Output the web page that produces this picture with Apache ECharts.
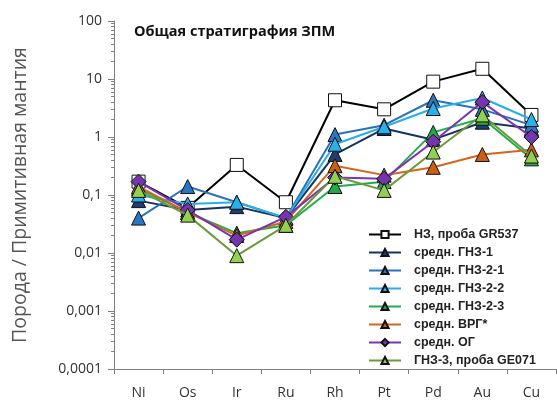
<!DOCTYPE html>
<html>
<head>
<meta charset="utf-8">
<script src="https://cdn.jsdelivr.net/npm/echarts@6/dist/echarts.min.js"></script>
<style>
html, body { margin: 0; padding: 0; background: #fff; }
#chart { width: 557px; height: 405px; }
</style>
</head>
<body>
<div id="chart"></div>
<script>
// элементы по оси X
var elements = ['Ni', 'Os', 'Ir', 'Ru', 'Rh', 'Pt', 'Pd', 'Au', 'Cu'];

// нормированные содержания (порода / примитивная мантия)
var nzGR537   = [0.17, 0.06, 0.33, 0.075, 4.3, 3.0, 9.0, 15, 2.4];
var gnz1      = [0.08, 0.055, 0.063, 0.04, 0.5, 1.4, 0.9, 1.8, 1.4];
var gnz21     = [0.04, 0.14, 0.075, 0.04, 1.1, 1.6, 4.3, 3.0, 1.6];
var gnz22     = [0.1, 0.07, 0.075, 0.04, 0.75, 1.5, 3.1, 4.7, 2.0];
var gnz23     = [0.13, 0.05, 0.022, 0.03, 0.14, 0.17, 1.2, 2.1, 0.42];
var vrg       = [0.14, 0.05, 0.02, 0.035, 0.32, 0.22, 0.3, 0.5, 0.6];
var og        = [0.17, 0.055, 0.017, 0.042, 0.2, 0.19, 0.83, 4.0, 1.0];
var gnz3GE071 = [0.12, 0.045, 0.009, 0.03, 0.21, 0.12, 0.55, 2.4, 0.47];

// подписи оси Y
var yLabels = {0.0001: '0,0001', 0.001: '0,001', 0.01: '0,01', 0.1: '0,1', 1: '1', 10: '10', 100: '100'};

var seriesDefs = [
    {name: 'НЗ, проба GR537', data: nzGR537, line: '#000000', fill: '#ffffff', symbol: 'rect', size: 13},
    {name: 'средн. ГНЗ-1', data: gnz1, line: '#17325f', fill: '#1f3d73', symbol: 'triangle', size: 14},
    {name: 'средн. ГНЗ-2-1', data: gnz21, line: '#2a72b8', fill: '#2a76c0', symbol: 'triangle', size: 14},
    {name: 'средн. ГНЗ-2-2', data: gnz22, line: '#27aee8', fill: '#2ab0ea', symbol: 'triangle', size: 14},
    {name: 'средн. ГНЗ-2-3', data: gnz23, line: '#1fae4e', fill: '#22a84a', symbol: 'triangle', size: 14},
    {name: 'средн. ВРГ*', data: vrg, line: '#d2661e', fill: '#cc5f17', symbol: 'triangle', size: 14},
    {name: 'средн. ОГ', data: og, line: '#7a34b0', fill: '#7535ad', symbol: 'diamond', size: 15},
    {name: 'ГНЗ-3, проба GE071', data: gnz3GE071, line: '#6a9a3c', fill: '#92d050', symbol: 'triangle', size: 14}
];

// промежуточные деления логарифмической шкалы (2..9 в каждой декаде)
var minorTicks = [];
for (var e = -4; e < 2; e++) {
    for (var k = 2; k <= 9; k++) {
        minorTicks.push(+(k * Math.pow(10, e)).toPrecision(3));
    }
}

var chart = echarts.init(document.getElementById('chart'));

var series = [];
for (var i = 0; i < seriesDefs.length; i++) {
    var d = seriesDefs[i];
    series.push({
        name: d.name,
        type: 'line',
        data: d.data,
        symbol: d.symbol,
        symbolSize: d.size,
        showAllSymbol: true,
        z: 2 + i,
        lineStyle: {color: d.line, width: 2},
        itemStyle: {color: d.fill, borderColor: '#111', borderWidth: 1},
        emphasis: {disabled: true}
    });
}

var option = {
    animation: false,
    backgroundColor: '#fff',
    title: {
        text: 'Общая стратиграфия ЗПМ',
        left: 129,
        top: 19,
        textStyle: {fontFamily: 'Open Sans', fontWeight: 'bold', fontSize: 14.5, color: '#111'}
    },
    legend: {
        orient: 'vertical',
        left: 363,
        top: 223,
        itemWidth: 32,
        itemHeight: 9,
        itemGap: 5,
        textStyle: {fontFamily: 'Liberation Sans', fontWeight: 'bold', fontSize: 12.5, color: '#222', padding: [0, 0, 0, 8]},
        data: seriesDefs.map(function (d) { return d.name; })
    },
    grid: {left: 114, top: 21, right: 1, bottom: 36},
    xAxis: {
        type: 'category',
        data: elements,
        boundaryGap: true,
        axisLine: {lineStyle: {color: '#808080', width: 1}},
        axisTick: {show: true, length: 5, lineStyle: {color: '#808080'}},
        axisLabel: {fontFamily: 'Open Sans', fontSize: 14, color: '#333', margin: 17}
    },
    yAxis: [{
        type: 'log',
        logBase: 10,
        min: 0.0001,
        max: 100,
        name: 'Порода / Примитивная мантия',
        nameLocation: 'middle',
        nameGap: 84,
        nameTextStyle: {fontFamily: 'Open Sans', fontSize: 19.5, color: '#555'},
        axisLine: {show: true, lineStyle: {color: '#808080', width: 1}},
        axisTick: {show: true, length: 6, lineStyle: {color: '#808080'}},
        splitLine: {show: false},
        axisLabel: {
            fontFamily: 'Open Sans', fontSize: 14, color: '#333', margin: 12,
            formatter: function (v) {
                for (var key in yLabels) {
                    if (Math.abs(Math.log10(v) - Math.log10(+key)) < 1e-6) return yLabels[key];
                }
                return '';
            }
        }
    }, {
        type: 'log',
        logBase: 10,
        min: 0.0001,
        max: 100,
        position: 'left',
        offset: 0,
        axisLine: {show: false},
        splitLine: {show: false},
        axisLabel: {show: false},
        axisTick: {show: true, length: 3, customValues: minorTicks, lineStyle: {color: '#808080'}}
    }],
    series: series
};

chart.setOption(option);
</script>
</body>
</html>
